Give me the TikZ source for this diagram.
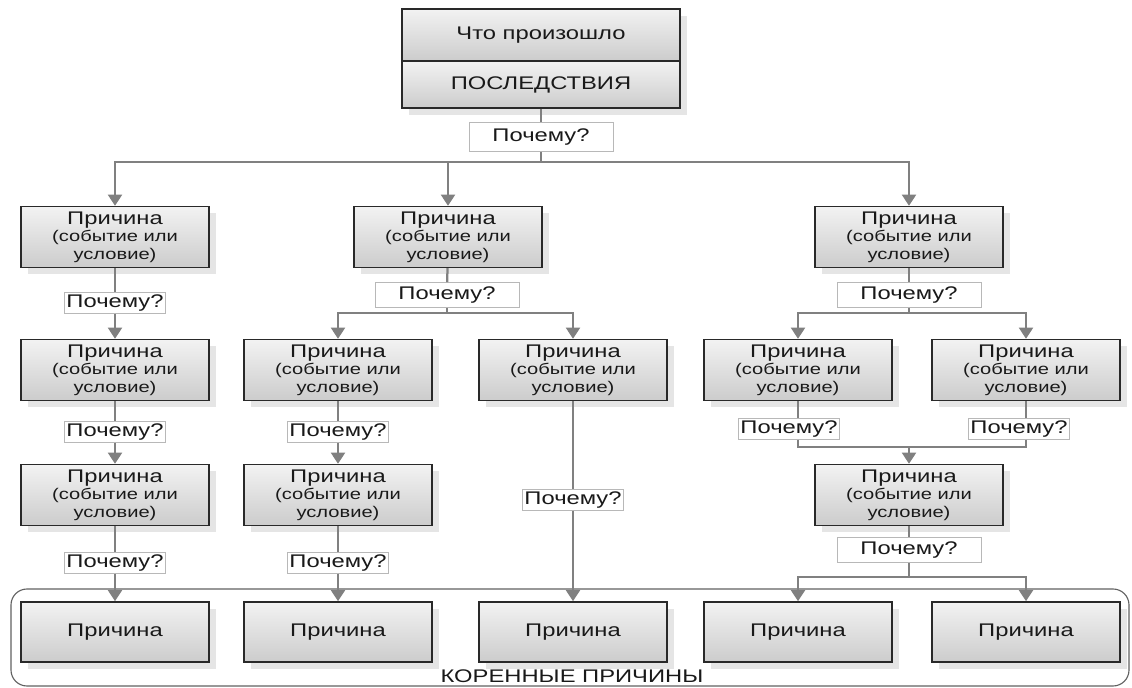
\documentclass[tikz,border=0pt]{standalone}
\definecolor{boxline}{rgb}{0.16, 0.16, 0.16}
\definecolor{linkgray}{rgb}{0.5, 0.5, 0.5}
\definecolor{whyline}{rgb}{0.72, 0.72, 0.72}
\definecolor{framegray}{rgb}{0.38, 0.38, 0.38}
\definecolor{inktext}{rgb}{0.1, 0.1, 0.1}
\usepackage{fontspec}
\setmainfont{Liberation Sans}[FakeStretch=1.3]
\usepackage{tikz}
\usetikzlibrary{arrows.meta, shadows, positioning}

\newcommand{\causetext}{{\fontsize{13}{13}\selectfont Причина}\\(событие или\\условие)}

\begin{document}
\begin{tikzpicture}[>={Triangle[width=10pt,length=8pt]}, x=0.025cm, y=-0.025cm]
	\useasboundingbox (0,0) rectangle (1132,688);
	% ------------------------------------------------------------------
	% STYLE DEFINITIONS
	% ------------------------------------------------------------------
	\tikzset{
		cause/.style   = {draw=boxline, line width=1.1pt, top color=gray!10, bottom color=gray!40,
		                  minimum width=4.7cm, minimum height=1.52cm, inner sep=0pt, align=center,
		                  text=inktext, font=\fontsize{11}{12.5}\selectfont,
		                  drop shadow={shadow xshift=0.17cm, shadow yshift=-0.17cm, fill=black!20}},
		root/.style    = {cause, font=\fontsize{13}{15}\selectfont, minimum height=1.5cm},
		head/.style    = {cause, minimum width=6.95cm, font=\fontsize{13}{15}\selectfont},
		why/.style     = {draw=whyline, fill=white, line width=0.6pt, text=inktext,
		                  font=\fontsize{13}{15}\selectfont, inner xsep=1.5pt, inner ysep=1.2pt,
		                  text height=9.4pt, text depth=2.8pt},
		whywide/.style = {why, minimum width=3.6cm, minimum height=0.62cm},
		link/.style    = {draw=linkgray, line width=1.6pt}
	}
	
	% --- Frame of the root causes ---
	\draw[framegray, line width=0.8pt, rounded corners=0.4cm] (11,589) rectangle (1129,686);
	\node[text=inktext, font=\fontsize{13}{15}\selectfont] (rootlabel) at (572,676) {КОРЕННЫЕ ПРИЧИНЫ};
	
	% --- Head ---
	\node[head, minimum height=1.3cm] (what) at (541,35) {Что произошло};
	\node[head, minimum height=1.175cm] (conseq) at (541,84.5) {ПОСЛЕДСТВИЯ};
	\node[whywide, minimum height=0.72cm] (why0) at (541,137) {Почему?};
	\coordinate (bus) at (541,162);
	
	% --- First level ---
	\node[cause] (c1a) at (115,237) {\causetext};
	\node[cause] (c1b) at (448,237) {\causetext};
	\node[cause] (c1c) at (909,237) {\causetext};
	
	% --- Left column ---
	\node[why] (why1a) at (115,303) {Почему?};
	\node[cause] (c2a) at (115,370) {\causetext};
	\node[why] (why2a) at (115,432) {Почему?};
	\node[cause] (c3a) at (115,495) {\causetext};
	\node[why] (why3a) at (115,563) {Почему?};
	
	% --- Middle column ---
	\node[whywide] (whyb) at (447,295) {Почему?};
	\coordinate (splitb) at (447,313);
	\node[cause] (c2b) at (338,370) {\causetext};
	\node[cause] (c2c) at (573,370) {\causetext};
	\node[why] (whyb2) at (338,432) {Почему?};
	\node[cause] (c3b) at (338,495) {\causetext};
	\node[why] (whyb3) at (338,563) {Почему?};
	\node[why] (whyc2) at (573,500) {Почему?};
	
	% --- Right column ---
	\node[whywide] (whyc) at (909,295) {Почему?};
	\coordinate (splitc) at (909,313);
	\node[cause] (c2d) at (798,370) {\causetext};
	\node[cause] (c2e) at (1026,370) {\causetext};
	\node[why] (whyd) at (789,429) {Почему?};
	\node[why] (whye) at (1019,429) {Почему?};
	\coordinate (mrg) at (909,447);
	\node[cause] (c3c) at (909,495) {\causetext};
	\node[whywide] (whyc3) at (909,550) {Почему?};
	\coordinate (splitr) at (909,577);
	
	% --- Root causes ---
	\node[root] (r1) at (115,632) {Причина};
	\node[root] (r2) at (338,632) {Причина};
	\node[root] (r3) at (573,632) {Причина};
	\node[root] (r4) at (798,632) {Причина};
	\node[root] (r5) at (1026,632) {Причина};
	
	% ------------------------------------------------------------------
	% CONNECTORS
	% ------------------------------------------------------------------
	\draw[link] (conseq) -- (why0);
	\draw[link] (why0) -- (bus);
	\draw[link,->] (bus) -| (c1a);
	\draw[link,->] (bus) -| (c1b);
	\draw[link,->] (bus) -| (c1c);
	
	\draw[link] (c1a) -- (why1a);
	\draw[link,->] (why1a) -- (c2a);
	\draw[link] (c2a) -- (why2a);
	\draw[link,->] (why2a) -- (c3a);
	\draw[link] (c3a) -- (why3a);
	\draw[link,->] (why3a) -- (r1);
	
	\draw[link] (c1b) -- (whyb);
	\draw[link] (whyb) -- (splitb);
	\draw[link,->] (splitb) -| (c2b);
	\draw[link,->] (splitb) -| (c2c);
	\draw[link] (c2b) -- (whyb2);
	\draw[link,->] (whyb2) -- (c3b);
	\draw[link] (c3b) -- (whyb3);
	\draw[link,->] (whyb3) -- (r2);
	\draw[link] (c2c) -- (whyc2);
	\draw[link,->] (whyc2) -- (r3);
	
	\draw[link] (c1c) -- (whyc);
	\draw[link] (whyc) -- (splitc);
	\draw[link,->] (splitc) -| (c2d);
	\draw[link,->] (splitc) -| (c2e);
	\draw[link] (c2d) -- (c2d |- whyd.north);
	\draw[link] (c2e) -- (c2e |- whye.north);
	\draw[link] (c2d |- whyd.south) |- (mrg);
	\draw[link] (c2e |- whye.south) |- (mrg);
	\draw[link,->] (mrg) -- (c3c);
	\draw[link] (c3c) -- (whyc3);
	\draw[link] (whyc3) -- (splitr);
	\draw[link,->] (splitr) -| (r4);
	\draw[link,->] (splitr) -| (r5);
	
\end{tikzpicture}
\end{document}
